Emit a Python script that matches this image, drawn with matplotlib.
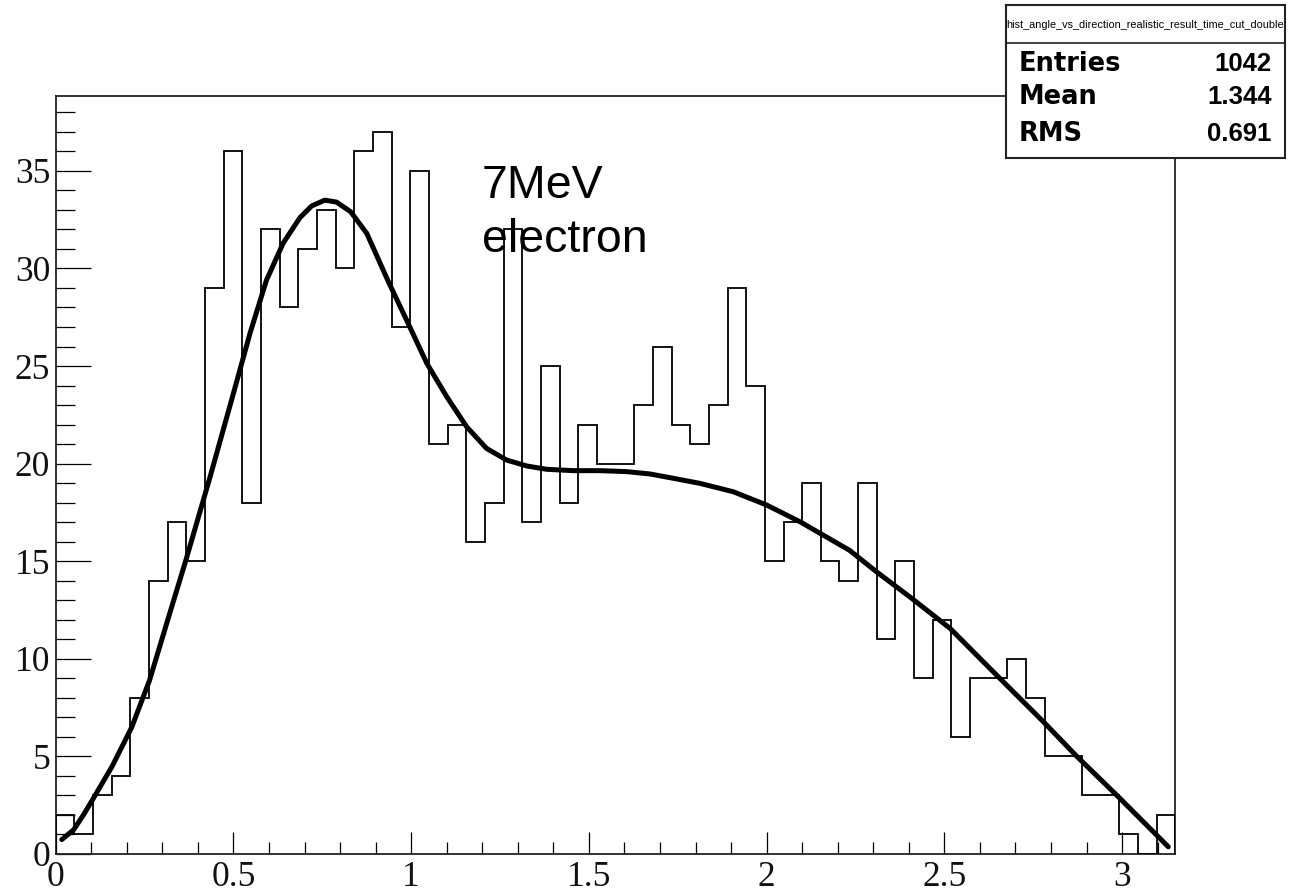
import numpy as np
import matplotlib
matplotlib.use("Agg")
import matplotlib.pyplot as plt
from matplotlib.ticker import MultipleLocator
from matplotlib.lines import Line2D

# ---------------- data ----------------
x_min, x_max, n_bins = 0.0, 3.15, 60
counts = [2, 1, 3, 4, 8, 14, 17, 15, 29, 36,
          18, 32, 28, 31, 33, 30, 36, 37, 27, 35,
          21, 22, 16, 18, 32, 17, 25, 18, 22, 20,
          20, 23, 26, 22, 21, 23, 29, 24, 15, 17,
          19, 15, 14, 19, 11, 15, 9, 12, 6, 9,
          9, 10, 8, 5, 5, 3, 3, 1, 0, 2]

fit_x = [0.017, 0.050, 0.078, 0.106, 0.159, 0.214, 0.264, 0.317, 0.367, 0.434,
         0.500, 0.547, 0.593, 0.640, 0.687, 0.720, 0.757, 0.790, 0.830, 0.875,
         0.936, 0.987, 1.044, 1.100, 1.156, 1.212, 1.269, 1.325, 1.381, 1.456,
         1.531, 1.606, 1.672, 1.737, 1.812, 1.906, 2.000, 2.094, 2.159, 2.234,
         2.309, 2.408, 2.516, 2.656, 2.780, 2.870, 2.989, 3.130]
fit_y = [0.74, 1.23, 2.00, 2.85, 4.50, 6.50, 8.90, 12.1, 15.1, 19.3,
         23.6, 26.7, 29.4, 31.3, 32.6, 33.2, 33.5, 33.4, 32.9, 31.8,
         29.32, 27.36, 25.14, 23.43, 21.89, 20.78, 20.18, 19.88, 19.71, 19.64,
         19.64, 19.59, 19.47, 19.25, 18.99, 18.56, 17.88, 17.02, 16.34, 15.55,
         14.46, 13.1, 11.56, 9.0, 6.75, 5.05, 2.94, 0.37]

stats_title = "hist_angle_vs_direction_realistic_result_time_cut_double"
stats_labels = ["Entries", "Mean", "RMS"]
stats_values = ["1042", "1.344", "0.691"]
annotation = ["7MeV", "electron"]

# ---------------- figure ----------------
W, H = 1289, 893
fig = plt.figure(figsize=(W / 100, H / 100), dpi=100)

def fx(px):
    return px / W

def fy(py):
    return 1 - py / H

left, right, top, bottom = 55.7, 1175.4, 95.7, 854.0
ax = fig.add_axes([fx(left), fy(bottom), fx(right - left), (bottom - top) / H])

edges = np.linspace(x_min, x_max, n_bins + 1)
ax.stairs(counts, edges, color="black", lw=1.3, baseline=0, zorder=3)
ax.plot(fit_x, fit_y, color="black", lw=3.6, solid_capstyle="round",
        solid_joinstyle="round", zorder=4)

ax.set_xlim(x_min, x_max)
ax.set_ylim(0, 38.85)

for s in ax.spines.values():
    s.set_linewidth(1.3)
    s.set_color("#222222")

ax.xaxis.set_major_locator(MultipleLocator(0.5))
ax.xaxis.set_minor_locator(MultipleLocator(0.1))
ax.yaxis.set_major_locator(MultipleLocator(5))
ax.yaxis.set_minor_locator(MultipleLocator(1))
ax.xaxis.set_major_formatter(plt.FuncFormatter(lambda v, p: f"{v:g}"))
ax.yaxis.set_major_formatter(plt.FuncFormatter(lambda v, p: f"{v:g}"))

ax.tick_params(axis="x", which="major", direction="in", length=15.6, width=0.9, pad=5)
ax.tick_params(axis="x", which="minor", direction="in", length=8.4, width=0.9)
ax.tick_params(axis="y", which="major", direction="in", length=25, width=0.9, pad=4)
ax.tick_params(axis="y", which="minor", direction="in", length=13.7, width=0.9)
ax.tick_params(top=False, right=False, which="both")
for lab in ax.get_xticklabels() + ax.get_yticklabels():
    lab.set_fontfamily("Liberation Serif")
    lab.set_fontsize(25.5)
    lab.set_color("#111111")

# annotation text (drawn under the histogram)
fig.text(fx(481.7), fy(198.3), annotation[0], family="Liberation Sans",
         fontsize=33.5, va="baseline", ha="left", zorder=0)
fig.text(fx(481.7), fy(251.7), annotation[1], family="Liberation Sans",
         fontsize=33.5, va="baseline", ha="left", zorder=0)
ax.set_zorder(1)
ax.patch.set_alpha(0)

# ---------------- stats box ----------------
bx0, bx1, by0, by1, bsep = 1005.7, 1285.0, 5.0, 158.3, 43.3
sax = fig.add_axes([fx(bx0), fy(by1), fx(bx1 - bx0), (by1 - by0) / H])
sax.set_zorder(5)
sax.set_xlim(bx0, bx1)
sax.set_ylim(by1, by0)
sax.set_xticks([])
sax.set_yticks([])
sax.set_facecolor("white")
for s in sax.spines.values():
    s.set_linewidth(1.5)
    s.set_color("#222222")
sax.add_line(Line2D([bx0, bx1], [bsep, bsep], color="#222222", lw=1.2))
sax.text((bx0 + bx1) / 2, (by0 + bsep) / 2 + 1, stats_title, ha="center", va="center",
         family="Liberation Sans", fontsize=7.8)
baselines = [70.7, 104.0, 140.7]
for lab, val, yb in zip(stats_labels, stats_values, baselines):
    sax.text(1018.3, yb, lab, ha="left", va="baseline", family="DejaVu Sans",
             fontweight="bold", fontsize=18.5)
    sax.text(1271.7, yb, val, ha="right", va="baseline", family="Liberation Sans",
             fontweight="bold", fontsize=18.5)

fig.savefig("out.png", dpi=100)
